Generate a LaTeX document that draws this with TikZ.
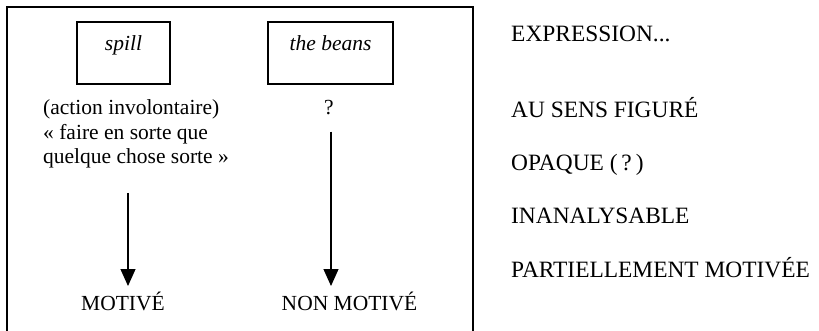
\documentclass[tikz,border=0pt]{standalone}
\usepackage{fontspec}
\setmainfont{Liberation Serif}
\usetikzlibrary{positioning,arrows.meta}

\begin{document}
\begin{tikzpicture}[x=1pt, y=-1pt, font=\fontsize{21.5}{24.5}\selectfont,
    wordbox/.style={rectangle, draw, line width=1.2pt, inner sep=0pt, text height=29pt, text depth=33pt, font=\fontsize{21.5}{24.5}\selectfont\itshape},
    plain/.style={inner sep=0pt, anchor=base},
    gloss/.style={inner sep=0pt, align=left, anchor=base west},
    rung/.style={inner sep=0pt, anchor=base west, font=\fontsize{23.4}{28}\selectfont},
    motive/.style={line width=1.2pt, -{Triangle[length=17pt, width=15pt]}}]
    \useasboundingbox (0,0) rectangle (819,331);

    % frame, open at the bottom
    \draw [line width=1.2pt] (7,331) -- (7,7) -- (473,7) -- (473,331);

    \node [wordbox, minimum width=93pt] (spill) at (123.5,53) {spill};
    \node [wordbox, minimum width=125pt] (beans) at (330.5,53) {the beans};

    % base of the gloss is its last line
    \node [gloss] (sens) at (43,164) {(action involontaire)\\« faire en sorte que\\quelque chose sorte »};
    \node [plain] (q) at (329,115) {?};

    \node [plain] (mot) at (123,310) {MOTIVÉ};
    \node [plain] (nonmot) at (349.5,310) {NON MOTIVÉ};

    \coordinate (tip1) at (128,286);
    \coordinate (tip2) at (331,286);
    \draw [motive] (sens.south -| tip1) ++(0,24) -- (tip1);
    \draw [motive] (q.south -| tip2) ++(0,16) -- (tip2);

    % the scale on the right
    \node [rung] (expr) at (511,42) {EXPRESSION...};
    \node [rung, below=76pt of expr.base west, anchor=base west] (fig) {AU SENS FIGURÉ};
    \node [rung, below=53pt of fig.base west, anchor=base west] (opaque) {OPAQUE (\,?\,)};
    \node [rung, below=53pt of opaque.base west, anchor=base west] (inan) {INANALYSABLE};
    \node [rung, below=53pt of inan.base west, anchor=base west] (part) {PARTIELLEMENT MOTIVÉE};
\end{tikzpicture}
\end{document}
